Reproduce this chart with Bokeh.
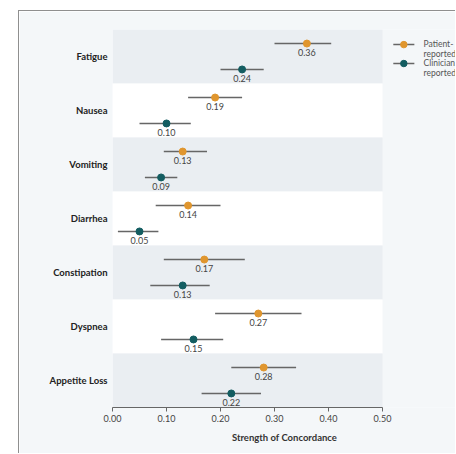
from bokeh.plotting import figure
from bokeh.models import Range1d, FixedTicker, NumeralTickFormatter, ColumnDataSource
from bokeh.core.properties import value
from bokeh.embed import file_html
from bokeh.resources import INLINE

categories = ["Fatigue", "Nausea", "Vomiting", "Diarrhea", "Constipation", "Dyspnea", "Appetite Loss"]
patient = [0.36, 0.19, 0.13, 0.14, 0.17, 0.27, 0.28]
patient_lo = [0.30, 0.14, 0.095, 0.08, 0.095, 0.19, 0.22]
patient_hi = [0.405, 0.24, 0.175, 0.20, 0.245, 0.35, 0.34]
clinician = [0.24, 0.10, 0.09, 0.05, 0.13, 0.15, 0.22]
clinician_lo = [0.20, 0.05, 0.06, 0.01, 0.07, 0.09, 0.165]
clinician_hi = [0.28, 0.145, 0.12, 0.085, 0.18, 0.205, 0.275]
x_ticks = [0.0, 0.1, 0.2, 0.3, 0.4, 0.5]
series_line1 = ["Patient-", "Clinician-"]
series_line2 = ["reported", "reported"]

ORANGE = "#e0962e"
TEAL = "#135d61"
BAR = "#666666"
BG = "#f4f7f9"
BAND = "#eaeef2"
FONT = "Lato"

n = len(categories)
centers = [n - i - 0.5 for i in range(n)]
off = 0.24

p = figure(width=437, height=443, output_backend="svg", toolbar_location=None,
           x_range=Range1d(0, 344 / 540), y_range=Range1d(0, n),
           min_border_left=93, min_border_right=0, min_border_top=18, min_border_bottom=47)
p.margin = (10, 0, 0, 18)
p.styles = {"border-left": "1px solid #8f8f8f", "border-top": "1px solid #8f8f8f"}
p.background_fill_color = BG
p.border_fill_color = BG
p.outline_line_color = None
p.xgrid.visible = False
p.ygrid.visible = False

# bands
band_src = ColumnDataSource(dict(
    left=[0] * n, right=[0.5] * n,
    bottom=[c - 0.5 for c in centers], top=[c + 0.5 for c in centers],
    color=[BAND if i % 2 == 0 else "#ffffff" for i in range(n)]))
p.quad(left="left", right="right", bottom="bottom", top="top", fill_color="color",
       line_color=None, source=band_src)

py = [c + off for c in centers]
cy = [c - off for c in centers]

p.segment(x0=patient_lo, x1=patient_hi, y0=py, y1=py, line_color=BAR, line_width=1.5)
p.segment(x0=clinician_lo, x1=clinician_hi, y0=cy, y1=cy, line_color=BAR, line_width=1.5)
p.scatter(x=patient, y=py, size=7, fill_color=ORANGE, line_color=ORANGE)
p.scatter(x=clinician, y=cy, size=7, fill_color=TEAL, line_color=TEAL)

p.text(x=patient, y=py, text=[f"{v:.2f}" for v in patient], y_offset=9,
       text_align="center", text_baseline="middle", text_font=value(FONT),
       text_font_size="9px", text_color="#444444")
p.text(x=clinician, y=cy, text=[f"{v:.2f}" for v in clinician], y_offset=9,
       text_align="center", text_baseline="middle", text_font=value(FONT),
       text_font_size="9px", text_color="#444444")

# legend (manual)
lx0, lx1, lxm, ltx = 0.520, 0.559, 0.5395, 0.576
ly = [6.72, 6.37]
colors = [ORANGE, TEAL]
p.segment(x0=[lx0, lx0], x1=[lx1, lx1], y0=ly, y1=ly, line_color=BAR, line_width=1.5)
p.scatter(x=[lxm, lxm], y=ly, size=6.5, fill_color=colors, line_color=colors)
p.text(x=[ltx, ltx], y=ly, text=series_line1, y_offset=-0.5, text_align="left",
       text_baseline="middle", text_font=value(FONT), text_font_size="8.5px",
       text_color="#555555")
p.text(x=[ltx, ltx], y=ly, text=series_line2, y_offset=9.5, text_align="left",
       text_baseline="middle", text_font=value(FONT), text_font_size="8.5px",
       text_color="#555555")

# axes
xa = p.xaxis[0]
xa.ticker = FixedTicker(ticks=x_ticks)
xa.formatter = NumeralTickFormatter(format="0.00")
xa.bounds = (0, 0.5)
xa.axis_line_color = "#666666"
xa.major_tick_line_color = "#666666"
xa.major_tick_in = 0
xa.major_tick_out = 4
xa.minor_tick_line_color = None
xa.major_label_text_font = FONT
xa.major_label_text_font_size = "9px"
xa.major_label_text_color = "#444444"
xa.major_label_standoff = 3
xa.axis_label = "Strength of Concordance"
xa.axis_label_text_font = FONT
xa.axis_label_text_font_style = "bold"
xa.axis_label_text_font_size = "9.5px"
xa.axis_label_text_color = "#333333"
xa.axis_label_standoff = 7

ya = p.yaxis[0]
ya.ticker = FixedTicker(ticks=centers)
ya.major_label_overrides = {c: name for c, name in zip(centers, categories)}
ya.axis_line_color = None
ya.major_tick_line_color = None
ya.major_tick_in = 0
ya.major_tick_out = 0
ya.minor_tick_line_color = None
ya.major_label_text_font = FONT
ya.major_label_text_font_style = "bold"
ya.major_label_text_font_size = "9.5px"
ya.major_label_text_color = "#222222"
ya.major_label_standoff = 5

open("out.html", "w").write(file_html(p, INLINE))
